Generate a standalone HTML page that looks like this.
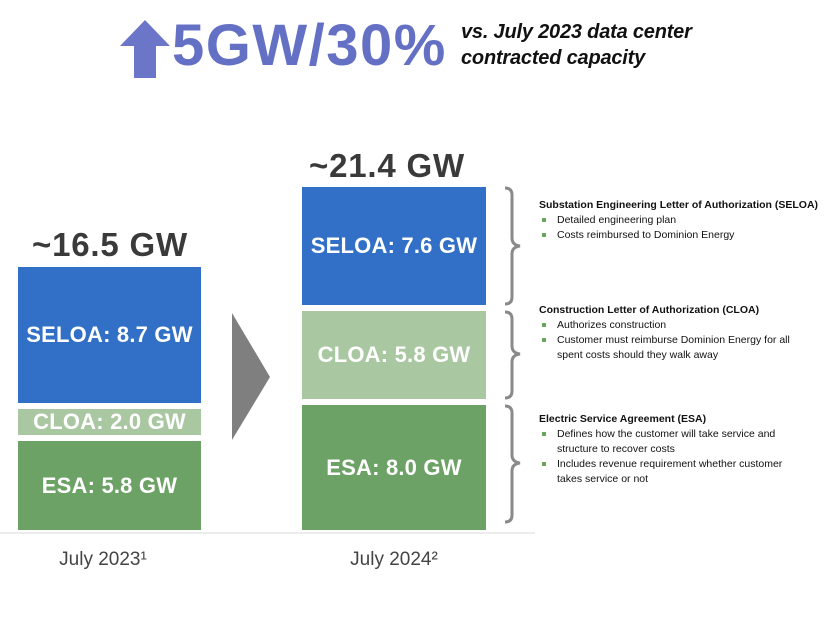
<!DOCTYPE html>
<html><head><meta charset="utf-8"><style>
body{margin:0;width:826px;height:620px;background:#fff;position:relative;overflow:hidden;font-family:"Liberation Sans",sans-serif}
.a{position:absolute}
.bar{position:absolute;color:#fff;font-weight:bold;font-size:22px;display:flex;align-items:center;justify-content:center;letter-spacing:0.2px}
.tot{position:absolute;font-weight:bold;font-size:33px;color:#3a3a3a;text-align:center;width:240px;letter-spacing:0.8px}
.lab{position:absolute;font-size:19px;color:#444;text-align:center;width:200px}
.t{position:absolute;left:539px;font-size:10.5px;color:#111;line-height:15px}
.t b{display:block;font-size:10.5px}
.t div{position:relative;padding-left:18px}
.t div:before{content:"";position:absolute;left:3px;top:5px;width:4px;height:4px;background:#6aa55c}
</style></head><body>
<svg class="a" style="left:0;top:0" width="826" height="620">
<polygon points="145,20 170,46 156,46 156,78 134,78 134,46 120,46" fill="#6c76c8"/>
<line x1="0" y1="533" x2="535" y2="533" stroke="#d8d8d8" stroke-width="1"/>
<polygon points="232,313 270,377 232,440" fill="#7f7f7f"/>
<g fill="none" stroke="#8a8a8a" stroke-width="3">
<path d="M505,188 Q512,188 512,195 V238 Q512,245 520,246 Q512,247 512,254 V297 Q512,304 505,304"/>
<path d="M505,312 Q512,312 512,319 V346 Q512,353 520,354 Q512,355 512,362 V391 Q512,398 505,398"/>
<path d="M505,406 Q512,406 512,413 V455 Q512,462 520,463 Q512,464 512,471 V515 Q512,522 505,522"/>
</g>
</svg>
<div class="a" style="left:172px;top:12px;font-size:58px;font-weight:bold;color:#6470c4;letter-spacing:1.5px">5GW/30%</div>
<div class="a" style="left:461px;top:19px;font-size:20px;font-weight:bold;font-style:italic;color:#111;line-height:26px;letter-spacing:-0.2px">vs. July 2023 data center<br>contracted capacity</div>

<div class="tot" style="left:-10px;top:226px">~16.5 GW</div>
<div class="bar" style="left:18px;top:267px;width:183px;height:136px;background:#3170c6">SELOA: 8.7 GW</div>
<div class="bar" style="left:18px;top:409px;width:183px;height:26px;background:#a9c8a2">CLOA: 2.0 GW</div>
<div class="bar" style="left:18px;top:441px;width:183px;height:89px;background:#6ca265">ESA: 5.8 GW</div>
<div class="lab" style="left:3px;top:549px">July 2023¹</div>

<div class="tot" style="left:267px;top:147px">~21.4 GW</div>
<div class="bar" style="left:302px;top:187px;width:184px;height:118px;background:#3170c6">SELOA: 7.6 GW</div>
<div class="bar" style="left:302px;top:311px;width:184px;height:88px;background:#a9c8a2">CLOA: 5.8 GW</div>
<div class="bar" style="left:302px;top:405px;width:184px;height:125px;background:#6ca265">ESA: 8.0 GW</div>
<div class="lab" style="left:294px;top:549px">July 2024²</div>

<div class="t" style="top:198px"><b>Substation Engineering Letter of Authorization (SELOA)</b><div>Detailed engineering plan</div><div>Costs reimbursed to Dominion Energy</div></div>
<div class="t" style="top:303px"><b>Construction Letter of Authorization (CLOA)</b><div>Authorizes construction</div><div>Customer must reimburse Dominion Energy for all<br>spent costs should they walk away</div></div>
<div class="t" style="top:412px"><b>Electric Service Agreement (ESA)</b><div>Defines how the customer will take service and<br>structure to recover costs</div><div>Includes revenue requirement whether customer<br>takes service or not</div></div>
</body></html>
